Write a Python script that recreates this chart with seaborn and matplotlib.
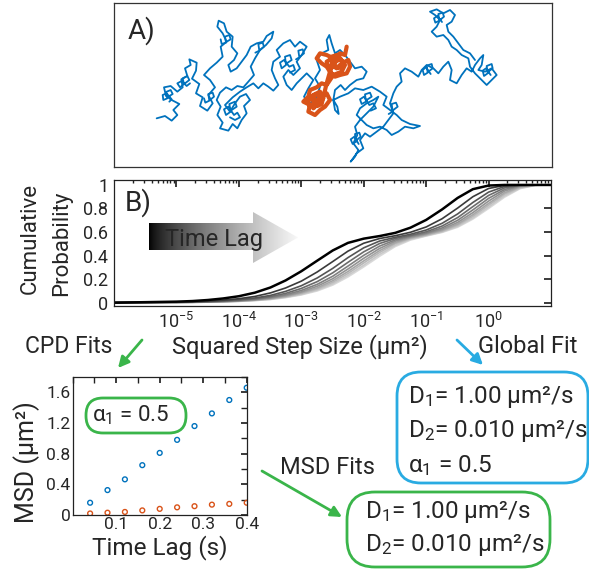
import numpy as np
import pandas as pd
import matplotlib
matplotlib.use("Agg")
import matplotlib.pyplot as plt
import seaborn as sns
from matplotlib.patches import FancyBboxPatch, Polygon
from matplotlib.ticker import LogLocator, NullFormatter, MultipleLocator

# ---------------- data ----------------
# A) trajectories (arbitrary position units)
blue_x = [170, 195, 215, 232, 220, 238, 215, 198, 192, 212, 232, 248, 244, 262, 255, 272, 268, 290, 288, 276,
          298, 288, 308, 300, 322, 338, 325, 345, 330, 312, 330, 350,
          368, 362, 380, 368, 352, 356, 372, 380, 398, 395, 412, 402, 385, 392, 410, 425, 440, 452,
          470, 490, 500, 520, 515, 498, 480, 465, 452, 462, 445,
          430, 412, 395, 378, 360, 350, 362, 352, 368, 360, 385, 398, 412, 425, 440, 432, 450, 438, 420,
          405, 390, 375, 398, 420, 440, 460, 475, 490, 505, 520,
          535, 525, 515, 520, 540, 530, 550, 570, 585, 600, 620, 605, 590, 600, 580, 565, 550, 560, 575,
          590, 605, 620, 640, 625, 612, 630,
          650, 660, 645, 660, 650, 665, 685, 680, 688, 695, 705, 720, 735, 750, 765, 785, 800, 790, 770,
          750, 735, 722, 705, 700, 712, 716, 705, 700, 720, 745,
          765, 790, 815, 840, 860, 850, 870, 890, 905, 930, 960, 940, 915, 895, 875, 860, 840, 820, 800,
          785, 770, 780, 800, 820, 835, 820, 800,
          780, 765, 772, 760, 775, 765, 752, 770, 790, 780, 795, 810, 830, 850, 865, 880, 870, 880,
          890, 905, 900, 915, 935, 955, 965, 980, 1000, 1015, 1030, 1045, 1055, 1050, 1070, 1085, 1100,
          1115, 1125, 1140, 1150, 1145, 1135, 1155, 1175, 1190, 1170, 1160, 1140, 1125, 1110, 1105, 1085,
          1070, 1055, 1045, 1030, 1010, 995, 1010, 1020, 1005, 990, 1010, 1030, 1050, 1065, 1055, 1040,
          1045, 1060, 1075, 1090, 1110, 1125]
blue_y = [355, 348, 362, 345, 330, 312, 300, 288, 262, 258, 275, 262, 238, 228, 205, 195, 178, 188, 212, 236,
          252, 280, 292, 318, 332, 310, 285, 262, 240, 225, 205, 188,
          170, 140, 125, 100, 80, 62, 70, 95, 110, 140, 160, 180, 195, 215, 205, 185, 165, 140,
          130, 125, 108, 95, 115, 135, 150, 175, 200, 225, 245,
          262, 258, 270, 262, 278, 300, 320, 345, 368, 385, 392, 372, 385, 360, 340, 318, 300, 282, 290,
          310, 335, 315, 292, 275, 262, 250, 265, 250, 260, 272,
          255, 235, 210, 185, 170, 150, 130, 120, 140, 125, 140, 165, 185, 205, 225, 210, 230, 255, 270,
          250, 235, 220, 240, 265, 290, 310,
          290, 260, 235, 210, 180, 160, 150, 120, 105, 130, 160, 150, 165, 185, 205, 200, 215, 235, 240,
          255, 270, 255, 270, 300, 320, 342, 330, 300, 290, 280,
          265, 270, 260, 275, 290, 315, 330, 345, 360, 372, 378, 385, 380, 395, 405, 390, 380, 385, 375,
          360, 345, 325, 310, 300, 290, 320, 340,
          360, 380, 405, 430, 450, 470, 485, 460, 445, 420, 400, 410, 395, 380, 360, 340, 310, 280,
          260, 245, 220, 205, 215, 230, 210, 195, 205, 220, 200, 185, 210, 240, 250, 225, 205,
          215, 195, 175, 165, 195, 210, 215, 205, 225, 245, 255, 235, 220, 200, 175, 165,
          150, 140, 120, 105, 110, 95, 80, 60, 45, 35, 28, 40, 30, 45, 65, 75,
          95, 110, 130, 150, 160, 180]
# tight back-and-forth excursions inside the dense clusters of the blue track
blue_loops_x = [[255, 268, 262, 248, 252, 240, 232, 245, 260, 270],
                [205, 218, 212, 198, 202, 190, 188, 200, 215, 208],
                [395, 410, 405, 388, 392, 378, 372, 385, 402, 412, 420, 405, 390],
                [380, 392, 388, 375, 378, 365, 362],
                [560, 575, 570, 555, 558, 545, 540, 552, 568, 580, 585, 570],
                [600, 612, 608, 595, 598, 588],
                [800, 815, 810, 795, 798, 785, 780, 792, 808, 820, 828, 812],
                [770, 782, 778, 765, 768, 758, 752, 763, 776],
                [985, 998, 995, 980, 983, 972, 968, 978, 992],
                [1165, 1178, 1175, 1160, 1163, 1152, 1148, 1158, 1172],
                [1020, 1032, 1028, 1015, 1018, 1006, 1002, 1012, 1026],
                [880, 893, 888, 875, 878, 866],
                [480, 492, 488, 475, 478, 466],
                [330, 342, 338, 325, 328, 316, 312]]
blue_loops_y = [[250, 240, 228, 235, 252, 262, 250, 243, 258, 250],
                [290, 282, 270, 276, 295, 300, 285, 280, 298, 305],
                [330, 320, 305, 312, 335, 345, 328, 320, 345, 338, 352, 360, 352],
                [125, 118, 105, 110, 128, 132, 118],
                [190, 180, 165, 170, 195, 205, 188, 180, 200, 195, 210, 218],
                [170, 160, 148, 152, 172, 178],
                [300, 290, 278, 283, 305, 312, 298, 290, 315, 310, 325, 332],
                [420, 410, 398, 402, 425, 432, 418, 410, 432],
                [215, 205, 192, 197, 218, 225, 210, 202, 222],
                [215, 205, 192, 198, 220, 228, 212, 205, 225],
                [60, 50, 38, 42, 62, 68, 55, 48, 66],
                [330, 320, 308, 312, 335, 342],
                [150, 140, 128, 132, 152, 158],
                [300, 290, 278, 282, 302, 308, 295]]
red_x = [740, 735, 720, 700, 680, 660, 650, 665, 680, 690, 705, 720, 740, 750, 745, 725, 710, 695, 700, 720,
         735, 725, 700, 690, 680, 665, 650, 630, 625, 610, 630, 625, 645, 660, 675, 690, 680, 665, 650, 640,
         655, 670, 660, 640,
         645, 658, 652, 638, 642, 628, 624, 636, 652, 665, 680, 690,
         700, 715, 710, 695, 698, 685, 680, 692, 708, 725, 730, 718]
red_y = [140, 165, 160, 175, 165, 160, 175, 190, 200, 215, 230, 225, 220, 200, 180, 190, 205, 195, 180, 175,
         195, 215, 225, 240, 255, 250, 262, 270, 290, 305, 315, 335, 345, 330, 320, 300, 280, 290, 305, 325,
         310, 295, 275, 285,
         305, 295, 282, 288, 310, 318, 302, 295, 318, 312, 250, 215,
         190, 180, 165, 170, 195, 200, 185, 178, 200, 205, 188, 172]

# B) cumulative probability of squared step size, one curve per time lag
sq_step = [1e-6, 1e-5, 1.8e-5, 3.2e-5, 5.6e-5, 1e-4, 1.8e-4, 3.2e-4, 5.6e-4, 1e-3, 1.8e-3, 3.2e-3, 5.6e-3,
           1e-2, 1.8e-2, 3.2e-2, 5.6e-2, 0.1, 0.18, 0.32, 0.56, 1.0, 1.8, 3.2, 5.6, 10.0]
cdf_lag1 = [0.0, 0.009, 0.014, 0.023, 0.036, 0.055, 0.085, 0.129, 0.189, 0.267, 0.357, 0.444, 0.508, 0.544, 0.566, 0.593, 0.637, 0.703, 0.792, 0.890, 0.964, 0.995, 1.0, 1.0, 1.0, 1.0]
cdf_lag2 = [0.001, 0.006, 0.009, 0.014, 0.022, 0.034, 0.053, 0.083, 0.125, 0.183, 0.261, 0.350, 0.438, 0.505, 0.545, 0.569, 0.598, 0.643, 0.713, 0.804, 0.900, 0.970, 0.996, 1.0, 1.0, 1.0]
cdf_lag3 = [0.001, 0.004, 0.007, 0.011, 0.017, 0.026, 0.040, 0.062, 0.096, 0.144, 0.210, 0.292, 0.383, 0.466, 0.524, 0.555, 0.581, 0.617, 0.674, 0.754, 0.851, 0.939, 0.987, 0.999, 1.0, 1.0]
cdf_lag4 = [0.001, 0.004, 0.006, 0.009, 0.014, 0.021, 0.033, 0.052, 0.079, 0.121, 0.179, 0.254, 0.343, 0.432, 0.503, 0.545, 0.571, 0.602, 0.651, 0.723, 0.816, 0.911, 0.975, 0.997, 1.0, 1.0]
cdf_lag5 = [0.001, 0.003, 0.005, 0.007, 0.012, 0.018, 0.028, 0.044, 0.068, 0.104, 0.156, 0.225, 0.311, 0.402, 0.481, 0.533, 0.564, 0.592, 0.635, 0.700, 0.788, 0.886, 0.961, 0.995, 1.0, 1.0]
cdf_lag6 = [0.001, 0.003, 0.004, 0.007, 0.010, 0.016, 0.025, 0.039, 0.060, 0.092, 0.140, 0.204, 0.286, 0.377, 0.461, 0.522, 0.557, 0.585, 0.623, 0.682, 0.765, 0.863, 0.948, 0.990, 1.0, 1.0]
cdf_lag7 = [0.001, 0.002, 0.004, 0.006, 0.009, 0.014, 0.022, 0.035, 0.054, 0.084, 0.126, 0.187, 0.265, 0.355, 0.443, 0.510, 0.551, 0.578, 0.614, 0.668, 0.747, 0.843, 0.933, 0.985, 0.999, 1.0]
cdf_lag8 = [0.001, 0.002, 0.003, 0.005, 0.008, 0.013, 0.021, 0.032, 0.050, 0.077, 0.116, 0.173, 0.248, 0.337, 0.427, 0.500, 0.545, 0.574, 0.607, 0.658, 0.733, 0.828, 0.921, 0.979, 0.998, 1.0]
cdf_lag9 = [0.001, 0.002, 0.003, 0.005, 0.008, 0.012, 0.019, 0.029, 0.046, 0.070, 0.107, 0.160, 0.232, 0.318, 0.410, 0.487, 0.539, 0.569, 0.601, 0.648, 0.719, 0.812, 0.907, 0.973, 0.997, 1.0]
cdf_lag10 = [0.001, 0.002, 0.003, 0.005, 0.007, 0.011, 0.018, 0.027, 0.043, 0.066, 0.100, 0.150, 0.219, 0.304, 0.395, 0.477, 0.532, 0.566, 0.597, 0.641, 0.710, 0.800, 0.896, 0.969, 0.996, 1.0]
cdf_curves = [cdf_lag1, cdf_lag2, cdf_lag3, cdf_lag4, cdf_lag5, cdf_lag6, cdf_lag7, cdf_lag8, cdf_lag9, cdf_lag10]

# C) MSD vs time lag
time_lag = [0.04, 0.08, 0.12, 0.16, 0.20, 0.24, 0.28, 0.32, 0.36, 0.40]
msd_fast = [0.16, 0.325, 0.465, 0.65, 0.81, 0.98, 1.16, 1.325, 1.50, 1.66]
msd_slow = [0.02, 0.03, 0.04, 0.06, 0.08, 0.10, 0.115, 0.135, 0.145, 0.16]

b_ticks = [1e-5, 1e-4, 1e-3, 1e-2, 1e-1, 1e0]
b_ticklabels = ["10$^{-5}$", "10$^{-4}$", "10$^{-3}$", "10$^{-2}$", "10$^{-1}$", "10$^{0}$"]

# ---------------- style ----------------
sns.set_theme(style="white")
plt.rcParams["font.family"] = ["Roboto", "DejaVu Sans"]
plt.rcParams["mathtext.fontset"] = "custom"
plt.rcParams["mathtext.rm"] = "Roboto"
plt.rcParams["mathtext.it"] = "Roboto:italic"
plt.rcParams["mathtext.bf"] = "Roboto:bold"

BLUE = "#0072BD"
RED = "#D95319"
GREEN = "#3AB54A"
CYAN = "#29ABE2"
grays = ["#000000", "#3a3a3a", "#555555", "#6b6b6b", "#808080", "#939393", "#a6a6a6", "#b8b8b8", "#c9c9c9", "#d9d9d9"]

W, H = 589, 571
fig = plt.figure(figsize=(W / 100, H / 100), dpi=100)


def px_axes(left, top, right, bottom):
    return fig.add_axes([left / W, 1 - bottom / H, (right - left) / W, (bottom - top) / H])


def inward(ax, size):
    ax.tick_params(which="both", direction="in", top=True, right=True, labelsize=size, color="#222222")
    for s in ax.spines.values():
        s.set_color("#222222")
        s.set_linewidth(0.9)


# ---------------- A) trajectories ----------------
axA = px_axes(114, 3, 552, 167)
sns.lineplot(x=blue_x, y=blue_y, sort=False, estimator=None, color=BLUE, lw=1.3, ax=axA)
for lx, ly in zip(blue_loops_x, blue_loops_y):
    sns.lineplot(x=lx, y=ly, sort=False, estimator=None, color=BLUE, lw=1.3, ax=axA)
sns.lineplot(x=red_x, y=red_y, sort=False, estimator=None, color=RED, lw=3.0, ax=axA)
axA.set_xlim(42, 1356)
axA.set_ylim(501, 9)
axA.set_xticks([])
axA.set_yticks([])
for s in axA.spines.values():
    s.set_color("#333333")
    s.set_linewidth(0.9)

# ---------------- B) CDF curves ----------------
axB = px_axes(114, 180, 551, 306)
rows = []
for i, curve in enumerate(cdf_curves):
    for x, y in zip(sq_step, curve):
        rows.append({"step": x, "cdf": y, "lag": i + 1})
cdf_df = pd.DataFrame(rows)
for i in range(len(cdf_curves) - 1, -1, -1):
    sub = cdf_df[cdf_df["lag"] == i + 1]
    sns.lineplot(data=sub, x="step", y="cdf", color=grays[i], lw=1.8 if i == 0 else 1.2,
                 estimator=None, sort=False, ax=axB)
axB.set_xscale("log")
axB.set_xlim(1e-6, 1e1)
axB.set_ylim(-0.028, 1.042)
axB.set_xticks(b_ticks)
axB.set_xticklabels(b_ticklabels)
axB.xaxis.set_minor_locator(LogLocator(base=10, subs=np.arange(2, 10), numticks=20))
axB.xaxis.set_minor_formatter(NullFormatter())
axB.set_yticks([0, 0.2, 0.4, 0.6, 0.8, 1.0])
axB.set_yticklabels(["0", "0.2", "0.4", "0.6", "0.8", "1"])
axB.set_xlabel("")
axB.set_ylabel("")
inward(axB, 13)
axB.tick_params(which="major", length=5, pad=4)
axB.tick_params(which="minor", length=2.5)

# gradient "Time Lag" arrow
axArr = px_axes(149, 212, 298, 263)
axArr.axis("off")
grad = (np.linspace(0, 1, 256) ** 0.7)[None, :] * 0.97
im = axArr.imshow(grad, cmap="gray", vmin=0, vmax=1, extent=[149, 298, 263, 212], aspect="auto")
arrow_poly = Polygon([(149, 223), (253, 223), (253, 212), (298, 237.5), (253, 263), (253, 250), (149, 250)],
                     closed=True, fc="none", ec="none", transform=axArr.transData)
axArr.add_patch(arrow_poly)
im.set_clip_path(arrow_poly)
axArr.set_xlim(149, 298)
axArr.set_ylim(263, 212)

# ---------------- C) MSD ----------------
axC = px_axes(72.7, 377, 246.7, 515)
sns.scatterplot(x=time_lag, y=msd_fast, marker="o", s=12, fc="none", ec=BLUE, linewidth=1.0, ax=axC)
sns.scatterplot(x=time_lag, y=msd_slow, marker="o", s=12, fc="none", ec=RED, linewidth=1.0, ax=axC)
axC.set_xlim(0, 0.4)
axC.set_ylim(0, 1.8)
axC.set_xticks([0.1, 0.2, 0.3, 0.4])
axC.set_xticklabels(["0.1", "0.2", "0.3", "0.4"])
axC.set_yticks([0, 0.4, 0.8, 1.2, 1.6])
axC.set_yticklabels(["0", "0.4", "0.8", "1.2", "1.6"])
axC.xaxis.set_minor_locator(MultipleLocator(0.05))
axC.yaxis.set_minor_locator(MultipleLocator(0.2))
inward(axC, 12.5)
axC.tick_params(which="major", length=4, pad=1.5)
axC.tick_params(which="minor", length=4)

# ---------------- overlay: labels, boxes, arrows ----------------
ov = fig.add_axes([0, 0, 1, 1])
ov.set_xlim(0, W)
ov.set_ylim(H, 0)
ov.axis("off")
ov.patch.set_alpha(0)

ov.text(128, 39, "A)", fontsize=20, va="baseline")
ov.text(125, 211, "B)", fontsize=20, va="baseline")
ov.text(165, 246, "Time Lag", fontsize=17, va="baseline")
ov.text(30, 238, "Cumulative", fontsize=16, rotation=90, ha="center", va="center")
ov.text(62, 243, "Probability", fontsize=16, rotation=90, ha="center", va="center")
ov.text(172, 353, "Squared Step Size (µm²)", fontsize=17, va="baseline")
ov.text(25, 353, "CPD Fits", fontsize=16.5, va="baseline")
ov.text(478, 353, "Global Fit", fontsize=17, va="baseline")
ov.text(27, 462, "MSD (µm²)", fontsize=18, rotation=90, ha="center", va="center")
ov.text(92, 554, "Time Lag (s)", fontsize=17.5, va="baseline")
ov.text(280, 474, "MSD Fits", fontsize=17, va="baseline")

arrow_kw = dict(arrowstyle="-|>", lw=2.0, mutation_scale=16, shrinkA=0, shrinkB=0)
ov.annotate("", xy=(118, 368), xytext=(142, 340), arrowprops=dict(color=GREEN, **arrow_kw))
ov.annotate("", xy=(483, 365), xytext=(457, 340), arrowprops=dict(color=CYAN, **arrow_kw))
ov.annotate("", xy=(342, 517), xytext=(262, 471), arrowprops=dict(color=GREEN, **arrow_kw))

# alpha box on MSD panel
ov.add_patch(FancyBboxPatch((86, 398), 100, 35, boxstyle="round,pad=0,rounding_size=17",
                            fc="white", ec=GREEN, lw=2.0))
ov.text(92, 421, "α$_1$ = 0.5", fontsize=16, va="baseline")

# global fit box
ov.add_patch(FancyBboxPatch((397, 372), 191, 111, boxstyle="round,pad=0,rounding_size=24",
                            fc="white", ec=CYAN, lw=2.0))
ov.text(408, 403, "D$_1$= 1.00 µm²/s", fontsize=17.5, va="baseline")
ov.text(408, 437, "D$_2$= 0.010 µm²/s", fontsize=17.5, va="baseline")
ov.text(408, 472, "α$_1$ = 0.5", fontsize=17.5, va="baseline")

# MSD fit box
ov.add_patch(FancyBboxPatch((347, 492), 203, 75, boxstyle="round,pad=0,rounding_size=28",
                            fc="white", ec=GREEN, lw=2.0))
ov.text(365, 518, "D$_1$= 1.00 µm²/s", fontsize=17.5, va="baseline")
ov.text(365, 551, "D$_2$= 0.010 µm²/s", fontsize=17.5, va="baseline")

fig.savefig("out.png", dpi=100)
